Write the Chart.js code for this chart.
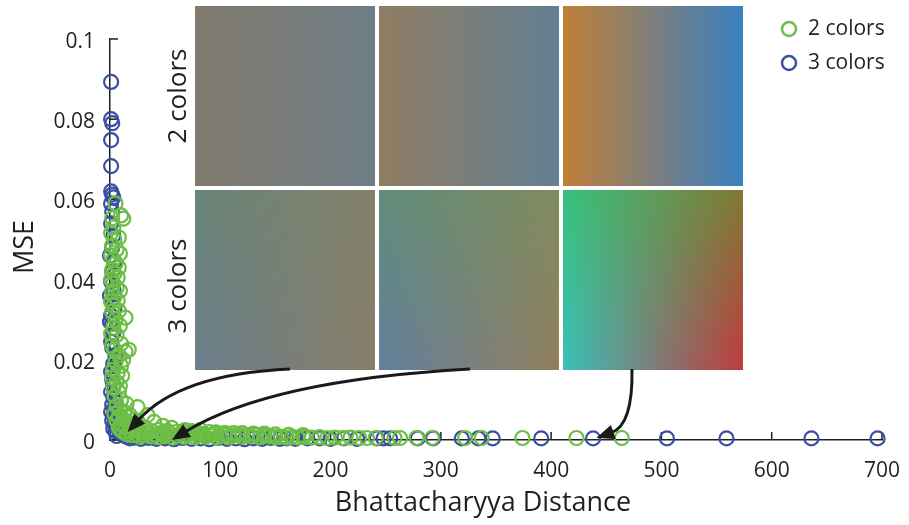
<!DOCTYPE html>
<html><head><meta charset="utf-8">
<script src="https://cdn.jsdelivr.net/npm/chart.js@4.4.0/dist/chart.umd.min.js"></script>
<style>html,body{margin:0;padding:0;background:#fff;} #wrap{width:909px;height:525px;position:relative;}</style>
</head><body><div id="wrap"><canvas id="c" width="909" height="525"></canvas></div>
<script>
// ---------------- data ----------------
const seriesLabels = ['2 colors', '3 colors'];
const xTickValues = [0, 100, 200, 300, 400, 500, 600, 700];
const yTickValues = [0, 0.02, 0.04, 0.06, 0.08, 0.1];
const yTickLabels = ['0', '0.02', '0.04', '0.06', '0.08', '0.1'];
const xTitle = 'Bhattacharyya Distance';
const yTitle = 'MSE';
const panelRowLabels = ['2 colors', '3 colors'];

// [Bhattacharyya distance, MSE]
const twoColors = [
  [5,0.0590],[10,0.0560],[2,0.0553],[12,0.0552],[3,0.0530],[1,0.0516],[4,0.0500],[8,0.0505],[2,0.0485],[6,0.0475],[1,0.0460],[9,0.0465],
  [3,0.0450],[5,0.0440],[2,0.0425],[8,0.0430],[4,0.0415],[1,0.0400],[7,0.0405],[3,0.0390],[6,0.0380],[2,0.0370],[9,0.0372],[4,0.0357],[1,0.0345],
  [7,0.0348],[3,0.0335],[14,0.0305],[2,0.0320],[8,0.0322],[5,0.0300],[3,0.0280],[9,0.0285],[1,0.0265],[6,0.0262],[2,0.0235],[10,0.0240],[4,0.0225],[14,0.0220],[17,0.0225],
  [8,0.0212],[5,0.0195],[12,0.0200],[10,0.0185],[3,0.0175],[7,0.0167],[2,0.0155],[11,0.0160],[6,0.0145],[3,0.0130],[9,0.0135],[8,0.0120],[4,0.0110],
  [10,0.0100],[15,0.0090],[25,0.0082],[6,0.0085],[9,0.0075],[13,0.0070],[4,0.0065],[18,0.0062],[8,0.0058],[34,0.0062],
  [12,0.0052],[22,0.0050],[6,0.0048],[40,0.0045],[16,0.0045],[10,0.0040],[26,0.0042],[48,0.0035],[20,0.0035],[14,0.0032],
  [8,0.0030],[32,0.0030],[56,0.0030],[24,0.0026],[18,0.0022],[12,0.0020],[38,0.0022],[28,0.0018],[68,0.0025],[82,0.0025],
  [10,0.0025],[15,0.0015],[44,0.0025],[52,0.0022],[60,0.0020],[74,0.0022],[90,0.0020],[104,0.0018],[120,0.0017],[140,0.0016],
  [48,0.0019],[66,0.0021],[80,0.0018],[96,0.0019],[112,0.0017],[130,0.0016],[150,0.0014],[162,0.0013],[175,0.0012],
  [20,0.0012],[24,0.0015],[27,0.0008],[30,0.0012],[34,0.0016],[37,0.0009],[40,0.0013],[44,0.0007],[47,0.0014],[50,0.0010],
  [54,0.0017],[57,0.0006],[60,0.0011],[64,0.0015],[67,0.0008],[70,0.0012],[74,0.0018],[77,0.0007],[80,0.0011],[84,0.0014],
  [87,0.0008],[90,0.0012],[94,0.0016],[97,0.0006],[100,0.0010],[104,0.0013],[108,0.0007],[112,0.0011],[116,0.0015],[120,0.0008],
  [124,0.0012],[128,0.0009],[132,0.0013],[136,0.0007],[140,0.0011],[145,0.0009],[150,0.0007],[155,0.0008],[160,0.0006],[165,0.0008],
  [170,0.0006],[176,0.0007],[183,0.0006],[190,0.0007],[197,0.0005],[204,0.0006],[211,0.0005],[218,0.0006],[226,0.0005],[233,0.0005],
  [241,0.0005],[258,0.0005],[263,0.0005],[278,0.0005],[292,0.0005],[322,0.0005],[337,0.0005],[374,0.0005],[423,0.0005],[464,0.0005]
];
const threeColors = [
  [1,0.0893],[1,0.0800],[2,0.0790],[1,0.0748],[1,0.0683],[1,0.0620],[2,0.0612],[3,0.0605],[1,0.0590],
  [2,0.0570],[1,0.0540],[3,0.0510],[2,0.0480],[0,0.0460],[4,0.0445],[2,0.0420],[1,0.0395],[3,0.0375],[0,0.0360],[2,0.0350],
  [4,0.0330],[1,0.0310],[0,0.0295],[2,0.0290],[3,0.0267],[1,0.0245],[2,0.0230],[5,0.0210],[3,0.0190],[1,0.0170],
  [2,0.0150],[3,0.0137],[1,0.0120],[3,0.0107],[5,0.0095],[2,0.0088],[4,0.0078],[1,0.0070],[3,0.0062],[6,0.0055],
  [2,0.0048],[4,0.0040],[7,0.0033],[3,0.0028],[5,0.0022],[9,0.0018],[12,0.0012],[6,0.0010],[15,0.0008],
  [18,0.0004],[22,0.0006],[28,0.0003],[35,0.0005],[42,0.0003],[50,0.0004],[58,0.0002],[66,0.0005],[74,0.0003],[82,0.0004],
  [90,0.0002],[98,0.0005],[106,0.0003],[114,0.0004],[122,0.0002],[130,0.0004],[138,0.0003],[146,0.0005],[154,0.0003],[160,0.0004],
  [168,0.0003],[179,0.0004],[190,0.0004],[200,0.0003],[212,0.0004],[224,0.0003],[242,0.0004],[248,0.0004],[254,0.0004],[279,0.0004],
  [293,0.0004],[319,0.0004],[334,0.0004],[347,0.0004],[391,0.0004],[438,0.0004],[505,0.0004],[559,0.0004],[636,0.0004],[696,0.0004]
];
// arrow tips, in data coordinates
const arrowTargets = [[16, 0.002], [56, 0.0], [441, 0.0005]];

// ---------------- styles ----------------
const GREEN = 'rgb(108,190,69)';
const BLUE = 'rgb(57,78,165)';
const INK = '#231f20';
const FONT = '"Open Sans", "DejaVu Sans", sans-serif';

// inset panel corner colours [tl, tr, bl, br]
const panelColors = [
  [[129,122,108],[111,125,135],[129,122,108],[111,125,135]],
  [[143,125,98],[99,127,146],[143,125,98],[99,127,146]],
  [[193,126,55],[57,128,193],[193,126,55],[57,128,193]],
  [[106,133,120],[130,128,106],[106,126,140],[136,126,104]],
  [[96,140,121],[128,139,95],[98,128,158],[145,127,94]],
  [[56,193,124],[128,121,52],[58,192,186],[193,58,60]]
];
const PANEL = {x: [195, 379, 563], y: [6, 190], size: 180};

function makePanel(c) {
  const n = PANEL.size;
  const cv = document.createElement('canvas');
  cv.width = n; cv.height = n;
  const g = cv.getContext('2d');
  const img = g.createImageData(n, n);
  for (let j = 0; j < n; j++) {
    const v = j / (n - 1);
    for (let i = 0; i < n; i++) {
      const u = i / (n - 1);
      const k = (j * n + i) * 4;
      for (let ch = 0; ch < 3; ch++) {
        const top = c[0][ch] * (1 - u) + c[1][ch] * u;
        const bot = c[2][ch] * (1 - u) + c[3][ch] * u;
        img.data[k + ch] = Math.round(top * (1 - v) + bot * v);
      }
      img.data[k + 3] = 255;
    }
  }
  g.putImageData(img, 0, 0);
  return cv;
}
const panelCanvases = panelColors.map(makePanel);

const decorPlugin = {
  id: 'decor',
  beforeDatasetsDraw(chart) {
    const ctx = chart.ctx;
    const xs = chart.scales.x, ys = chart.scales.y;
    ctx.save();
    ctx.strokeStyle = INK;
    ctx.lineWidth = 1.5;
    const y0 = ys.getPixelForValue(0), x0 = xs.getPixelForValue(0);
    xTickValues.forEach(v => {
      const px = xs.getPixelForValue(v);
      ctx.beginPath(); ctx.moveTo(px, y0); ctx.lineTo(px, y0 - 8); ctx.stroke();
    });
    yTickValues.forEach(v => {
      const py = ys.getPixelForValue(v);
      ctx.beginPath(); ctx.moveTo(x0, py); ctx.lineTo(x0 + 8, py); ctx.stroke();
    });
    // axis titles
    ctx.fillStyle = INK;
    ctx.font = '27px ' + FONT;
    ctx.textAlign = 'center';
    ctx.textBaseline = 'middle';
    ctx.fillText(xTitle, 483, 503);
    ctx.save();
    ctx.translate(25, 247);
    ctx.rotate(-Math.PI / 2);
    ctx.fillText(yTitle, 0, 0);
    ctx.restore();
    ctx.restore();
  },
  afterDatasetsDraw(chart) {
    const ctx = chart.ctx;
    const xs = chart.scales.x, ys = chart.scales.y;
    ctx.save();
    // panels
    let idx = 0;
    for (let r = 0; r < 2; r++) for (let c = 0; c < 3; c++) {
      ctx.drawImage(panelCanvases[idx++], PANEL.x[c], PANEL.y[r]);
    }
    // row labels
    ctx.fillStyle = INK;
    ctx.font = '26px ' + FONT;
    ctx.textAlign = 'center';
    ctx.textBaseline = 'middle';
    panelRowLabels.forEach((t, r) => {
      ctx.save();
      ctx.translate(179, PANEL.y[r] + PANEL.size / 2 + (r ? 6 : 0));
      ctx.rotate(-Math.PI / 2);
      ctx.fillText(t, 0, 0);
      ctx.restore();
    });
    // arrows
    const starts = [[290, 369], [470, 369], [632, 369]];
    const ctrls = [[180, 374], [270, 380], [633, 425]];
    ctx.strokeStyle = '#1a1a1a';
    ctx.fillStyle = '#1a1a1a';
    ctx.lineWidth = 3;
    arrowTargets.forEach((t, i) => {
      const tx = xs.getPixelForValue(t[0]), ty = ys.getPixelForValue(t[1]);
      const [sx, sy] = starts[i];
      const [cx, cy] = ctrls[i];
      const ang = Math.atan2(ty - cy, tx - cx);
      const L = 18, W = 7.5;
      const bx = tx - L * Math.cos(ang), by = ty - L * Math.sin(ang);
      ctx.beginPath();
      ctx.moveTo(sx, sy);
      ctx.quadraticCurveTo(cx, cy, bx + 2 * Math.cos(ang), by + 2 * Math.sin(ang));
      ctx.stroke();
      ctx.beginPath();
      ctx.moveTo(tx, ty);
      ctx.lineTo(bx + W * Math.sin(ang), by - W * Math.cos(ang));
      ctx.lineTo(bx - W * Math.sin(ang), by + W * Math.cos(ang));
      ctx.closePath();
      ctx.fill();
    });
    // legend
    ctx.font = '21px ' + FONT;
    ctx.textAlign = 'left';
    ctx.textBaseline = 'middle';
    chart.data.datasets.forEach((ds, i) => {
      const ly = 29 + i * 34;
      ctx.beginPath();
      ctx.arc(789, ly, 7, 0, Math.PI * 2);
      ctx.strokeStyle = ds.borderColor;
      ctx.lineWidth = 2.5;
      ctx.stroke();
      ctx.fillStyle = INK;
      ctx.fillText(ds.label, 808, ly);
    });
    ctx.restore();
  }
};

const toPts = arr => arr.map(p => ({x: p[0], y: p[1]}));

new Chart(document.getElementById('c'), {
  type: 'scatter',
  data: {
    datasets: [
      {label: seriesLabels[0], data: toPts(twoColors), borderColor: GREEN, backgroundColor: 'rgba(0,0,0,0)',
       pointRadius: 7, borderWidth: 2.2, pointHoverRadius: 7, clip: false},
      {label: seriesLabels[1], data: toPts(threeColors), borderColor: BLUE, backgroundColor: 'rgba(0,0,0,0)',
       pointRadius: 7, borderWidth: 2.2, pointHoverRadius: 7, clip: false}
    ]
  },
  options: {
    responsive: false,
    animation: false,
    events: [],
    layout: {padding: {top: 39, right: 27, left: 0, bottom: 0}},
    plugins: {legend: {display: false}, tooltip: {enabled: false}},
    scales: {
      x: {
        type: 'linear', min: 0, max: 700,
        afterFit: s => { s.height = 85; s.paddingLeft = 0; s.paddingRight = 0; },
        afterBuildTicks: s => { s.ticks = xTickValues.map(v => ({value: v})); },
        grid: {display: false, drawTicks: false},
        border: {display: true, color: INK, width: 1.5},
        ticks: {padding: 18, color: INK, font: {family: FONT, size: 21}, callback: v => String(v)},
        title: {display: false}
      },
      y: {
        type: 'linear', min: 0, max: 0.1,
        afterFit: s => { s.width = 110; s.paddingTop = 0; s.paddingBottom = 0; },
        afterBuildTicks: s => { s.ticks = yTickValues.map(v => ({value: v})); },
        grid: {display: false, drawTicks: false},
        border: {display: true, color: INK, width: 1.5},
        ticks: {padding: 15, labelOffset: 3, color: INK, font: {family: FONT, size: 21},
                callback: (v, i) => yTickLabels[i]},
        title: {display: false}
      }
    }
  },
  plugins: [decorPlugin]
});
</script>
</body></html>
